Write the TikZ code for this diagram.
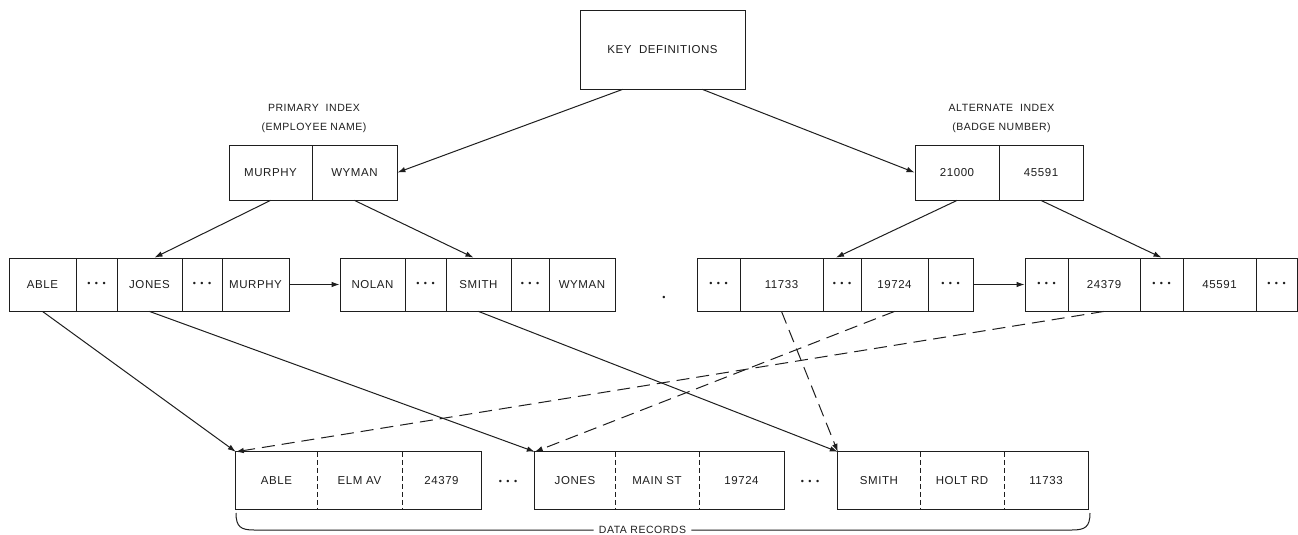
\documentclass[tikz,border=0pt]{standalone}
\usepackage{fontspec}
\setmainfont{Liberation Sans}
\usetikzlibrary{arrows.meta}
\definecolor{ink}{HTML}{1E1E1E}
\newcommand{\cellfont}{\fontsize{11.5}{13}\selectfont\addfontfeatures{LetterSpace=5}}
\newcommand{\lblfont}{\fontsize{10.5}{19}\selectfont\addfontfeatures{LetterSpace=5}}
\newcommand{\dts}{{\fontsize{9}{9}\selectfont\textbullet\hspace{4.5pt}\textbullet\hspace{4.5pt}\textbullet}}
\tikzset{
  ln/.style={line width=1pt, draw=ink},
  cell/.style={draw=ink, line width=0.85pt, minimum height=53pt, inner sep=0pt, font=\cellfont, text=ink},
  icell/.style={cell, minimum height=55pt},
  dcell/.style={inner sep=0pt, minimum height=57pt, font=\cellfont, text=ink},
  lbl/.style={font=\lblfont, align=center, text=ink, inner sep=0pt},
  arr/.style={ln, -{Latex[length=8pt,width=5.5pt]}},
  darr/.style={arr, dash pattern=on 13pt off 7pt},
  divider/.style={ln, dash pattern=on 5pt off 3pt},
}
\begin{document}
\begin{tikzpicture}[x=1pt,y=-1pt]
\fill[white] (0,0) rectangle (1298,535);
\useasboundingbox (0,0) rectangle (1298,535);

% key definitions
\node[cell, minimum width=165pt, minimum height=79pt] (key) at (662.5,49.5) {KEY\ \ DEFINITIONS};

% primary index
\node[lbl] (plbl) at (314,118.5) {PRIMARY\ \ INDEX\\(EMPLOYEE NAME)};
\node[icell, minimum width=83pt] (p1) at (270.5,172.5) {MURPHY};
\node[icell, minimum width=85pt] (p2) at (354.5,172.5) {WYMAN};

% alternate index
\node[lbl] (qlbl) at (1001.5,118.5) {ALTERNATE\ \ INDEX\\(BADGE NUMBER)};
\node[icell, minimum width=84pt] (q1) at (957,172.5) {21000};
\node[icell, minimum width=84pt] (q2) at (1041,172.5) {45591};

% leaf A
\node[cell, minimum width=67pt] (la1) at (42.5,284.5) {ABLE};
\node[cell, minimum width=41pt] (la2) at (96.5,284.5) {\dts};
\node[cell, minimum width=65pt] (la3) at (149.5,284.5) {JONES};
\node[cell, minimum width=40pt] (la4) at (202,284.5) {\dts};
\node[cell, minimum width=67pt] (la5) at (255.5,284.5) {MURPHY};
% leaf B
\node[cell, minimum width=65pt] (lb1) at (372.5,284.5) {NOLAN};
\node[cell, minimum width=41pt] (lb2) at (425.5,284.5) {\dts};
\node[cell, minimum width=65pt] (lb3) at (478.5,284.5) {SMITH};
\node[cell, minimum width=38pt] (lb4) at (530,284.5) {\dts};
\node[cell, minimum width=66pt] (lb5) at (582,284.5) {WYMAN};
% stray dot
\node[text=ink, inner sep=0pt, font=\fontsize{9}{9}\selectfont] (sdot) at (664,298) {\textbullet};
% leaf C
\node[cell, minimum width=43pt] (lc1) at (718.5,284.5) {\dts};
\node[cell, minimum width=83pt] (lc2) at (781.5,284.5) {11733};
\node[cell, minimum width=38pt] (lc3) at (842,284.5) {\dts};
\node[cell, minimum width=67pt] (lc4) at (894.5,284.5) {19724};
\node[cell, minimum width=45pt] (lc5) at (950.5,284.5) {\dts};
% leaf D
\node[cell, minimum width=43pt] (ld1) at (1046.5,284.5) {\dts};
\node[cell, minimum width=72pt] (ld2) at (1104,284.5) {24379};
\node[cell, minimum width=43pt] (ld3) at (1161.5,284.5) {\dts};
\node[cell, minimum width=73pt] (ld4) at (1219.5,284.5) {45591};
\node[cell, minimum width=41pt] (ld5) at (1276.5,284.5) {\dts};

% data records
\node[dcell, minimum width=81pt] (e1) at (276.5,480.5) {ABLE};
\node[dcell, minimum width=85pt] (e2) at (359.5,480.5) {ELM AV};
\node[dcell, minimum width=79pt] (e3) at (441.5,480.5) {24379};
\draw[ln] (e1.north west) rectangle (e3.south east);
\draw[divider] (e1.north east) -- (e1.south east);
\draw[divider] (e2.north east) -- (e2.south east);
\node[text=ink, inner sep=0pt] (dd1) at (508,482) {\dts};

\node[dcell, minimum width=80pt] (f1) at (575,480.5) {JONES};
\node[dcell, minimum width=84pt] (f2) at (657,480.5) {MAIN ST};
\node[dcell, minimum width=85pt] (f3) at (741.5,480.5) {19724};
\draw[ln] (f1.north west) rectangle (f3.south east);
\draw[divider] (f1.north east) -- (f1.south east);
\draw[divider] (f2.north east) -- (f2.south east);
\node[text=ink, inner sep=0pt] (dd2) at (810,482) {\dts};

\node[dcell, minimum width=82pt] (g1) at (879,480.5) {SMITH};
\node[dcell, minimum width=84pt] (g2) at (962,480.5) {HOLT RD};
\node[dcell, minimum width=84pt] (g3) at (1046,480.5) {11733};
\draw[ln] (g1.north west) rectangle (g3.south east);
\draw[divider] (g1.north east) -- (g1.south east);
\draw[divider] (g2.north east) -- (g2.south east);

% brace
\node[lbl, inner xsep=5pt] (drec) at (642.5,530) {DATA RECORDS};
\coordinate (bl) at (236,513);
\coordinate (br) at (1090,513);
\draw[ln] (bl) .. controls (236,527) and (241,530) .. (254,530) -- (drec.west);
\draw[ln] (drec.east) -- (1072,530) .. controls (1085,530) and (1090,527) .. (br);

% connectors
\draw[arr] ([xshift=-40pt]key.south) -- (p2.east);
\draw[arr] ([xshift=40pt]key.south) -- (q1.west);
\draw[arr] (p1.south) -- ([xshift=5pt]la3.north);
\draw[arr] (p2.south) -- ([xshift=-5pt]lb3.north);
\draw[arr] (q1.south) -- ([xshift=-6pt]lc3.north);
\draw[arr] (q2.south) -- (ld3.north);
\draw[arr] (la5.east) -- (lb1.west);
\draw[arr] (lc5.east) -- (ld1.west);
\draw[arr] (la1.south) -- (e1.north west);
\draw[arr] (la3.south) -- (f1.north west);
\draw[arr] (lb3.south) -- (g1.north west);
\draw[darr] (lc2.south) -- (g1.north west);
\draw[darr] (lc4.south) -- (f1.north west);
\draw[darr] (ld2.south) -- (e1.north west);
\end{tikzpicture}
\end{document}
